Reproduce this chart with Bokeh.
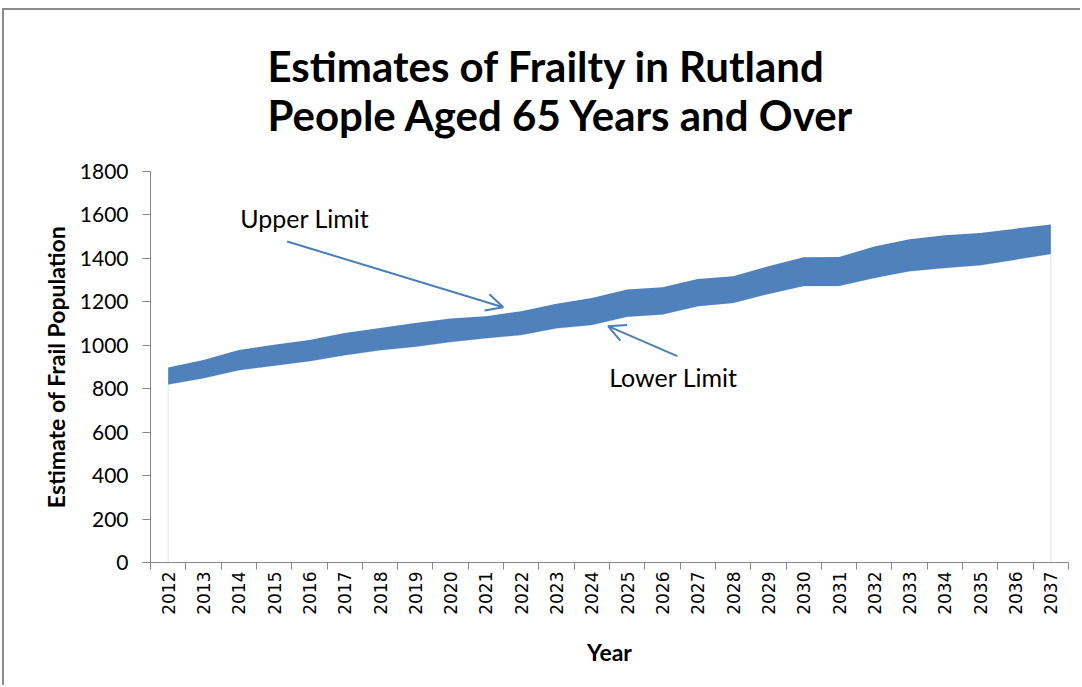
from bokeh.plotting import figure
from bokeh.models import FixedTicker, Range1d, Label, Arrow, OpenHead, Title
from bokeh.embed import file_html
from bokeh.resources import INLINE
from math import pi

years = [str(y) for y in range(2012, 2038)]
lower = [820, 848, 885, 906, 927, 954, 977, 993, 1015, 1032, 1047, 1078, 1093,
         1131, 1142, 1180, 1195, 1236, 1273, 1273, 1310, 1341, 1356, 1368, 1394, 1420]
upper = [898, 932, 978, 1002, 1024, 1056, 1079, 1102, 1123, 1134, 1157, 1191, 1218,
         1257, 1267, 1305, 1318, 1364, 1405, 1406, 1455, 1488, 1506, 1517, 1537, 1556]
y_ticks = [0, 200, 400, 600, 800, 1000, 1200, 1400, 1600, 1800]
title_lines = ["Estimates of Frailty in Rutland", "People Aged 65 Years and Over"]

idx = list(range(len(years)))
BLUE = "#4F81BD"
GREY = "#868686"

p = figure(width=1078, height=677, output_backend="svg", toolbar_location=None,
           x_range=Range1d(-0.5, len(years) - 0.5), y_range=Range1d(0, 1800),
           min_border_left=146, min_border_right=14, min_border_top=160, min_border_bottom=125)
p.styles = {"border-top": "2px solid #8c8c8c", "border-left": "2px solid #8c8c8c",
            "margin-top": "8px", "margin-left": "2px"}
p.outline_line_color = None
p.xgrid.visible = False
p.ygrid.visible = False
p.background_fill_color = "white"
p.border_fill_color = "white"

# faint outline of the lower series area
p.patch(idx + idx[::-1], lower + [0] * len(idx), fill_alpha=0, line_color="#dbe4f1", line_width=1)
# band between lower and upper limit
p.varea(x=idx, y1=lower, y2=upper, fill_color=BLUE)

# axes
xa = p.xaxis[0]
xa.ticker = FixedTicker(ticks=idx, minor_ticks=[i - 0.5 for i in range(len(years) + 1)])
xa.major_label_overrides = {i: y for i, y in enumerate(years)}
xa.major_label_orientation = pi / 2
xa.major_tick_out = 0
xa.major_tick_in = 0
xa.minor_tick_out = 7
xa.minor_tick_in = 0
xa.minor_tick_line_color = GREY
xa.axis_line_color = GREY
xa.major_label_text_font = "DejaVu Sans"
xa.major_label_text_font_size = "17px"
xa.major_label_text_color = "black"
xa.major_label_standoff = 2
xa.axis_label = "Year"
xa.axis_label_text_font = "Lato"
xa.axis_label_text_font_style = "bold"
xa.axis_label_text_font_size = "23px"
xa.axis_label_text_color = "black"
xa.axis_label_standoff = 20

ya = p.yaxis[0]
ya.ticker = FixedTicker(ticks=y_ticks)
ya.major_tick_out = 8
ya.major_tick_in = 0
ya.major_tick_line_color = GREY
ya.minor_tick_line_color = None
ya.axis_line_color = GREY
ya.major_label_text_font = "Lato"
ya.major_label_text_font_size = "21px"
ya.major_label_text_color = "black"
ya.major_label_standoff = 14
ya.axis_label = "Estimate of Frail Population"
ya.axis_label_text_font = "Lato"
ya.axis_label_text_font_style = "bold"
ya.axis_label_text_font_size = "23px"
ya.axis_label_text_color = "black"
ya.axis_label_standoff = 7

# two-line title
p.add_layout(Title(text="\n".join(title_lines), align="left", offset=117, text_font="Lato",
                   text_font_style="bold", text_font_size="42px", text_color="black",
                   text_line_height=0.98, vertical_align="top", standoff=60), "above")

# annotations
p.add_layout(Label(x=2.04, y=1584, text="Upper Limit", text_align="left", text_baseline="middle",
                   text_font="Lato", text_font_size="25px", text_color="black"))
p.add_layout(Label(x=12.49, y=854, text="Lower Limit", text_align="left", text_baseline="middle",
                   text_font="Lato", text_font_size="25px", text_color="black"))
p.add_layout(Arrow(x_start=3.37, y_start=1478, x_end=9.49, y_end=1175, line_color="#4A7EBB",
                   line_width=2, end=OpenHead(size=17, line_color="#4A7EBB", line_width=2)))
p.add_layout(Arrow(x_start=14.42, y_start=950, x_end=12.46, y_end=1088, line_color="#4A7EBB",
                   line_width=2, end=OpenHead(size=17, line_color="#4A7EBB", line_width=2)))

open("out.html", "w").write(file_html(p, INLINE))
